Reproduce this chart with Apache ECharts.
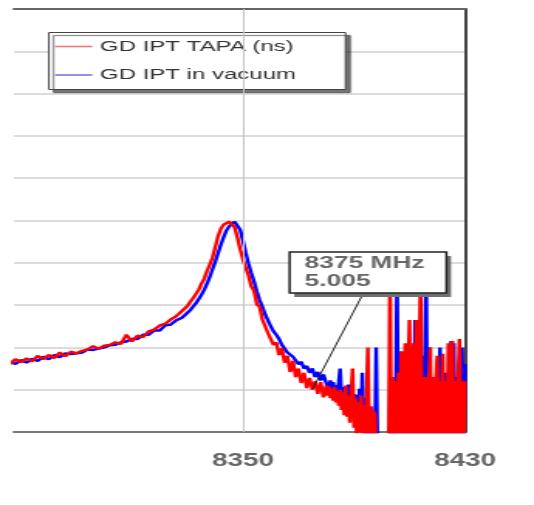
<!DOCTYPE html>
<html>
<head>
<meta charset="utf-8">
<script src="https://cdn.jsdelivr.net/npm/echarts@6/dist/echarts.min.js"></script>
<style>
  html, body { margin: 0; padding: 0; background: #fff; overflow: hidden; }
  /* the plot is laid out narrow and widened horizontally, like the exported trace */
  #chart { width: 345px; height: 505px; transform: scaleX(1.5478); transform-origin: 0 0; }
</style>
</head>
<body>
<div id="chart"></div>
<script>
// Frequency grid, MHz
const freqMHz = [
  8264, 8266, 8268, 8270, 8272, 8274, 8276, 8278, 8280, 8282,
  8284, 8286, 8288, 8290, 8292, 8294, 8296, 8298, 8300, 8302,
  8304, 8306, 8308, 8310, 8312, 8314, 8316, 8318, 8320, 8322,
  8324, 8326, 8328, 8330,
  8331, 8332, 8333, 8334, 8335, 8336, 8337, 8338, 8339, 8340,
  8341, 8342, 8343, 8344, 8345, 8346, 8347, 8348, 8349, 8350,
  8351, 8352, 8353, 8354, 8355, 8356, 8357, 8358, 8359, 8360,
  8361, 8362, 8363, 8364, 8365, 8366, 8367, 8368, 8369, 8370,
  8371, 8372, 8373, 8374, 8375, 8376, 8377, 8378, 8379, 8380,
  8380.5, 8381, 8381.5, 8382, 8382.5, 8383, 8383.5, 8384, 8384.5, 8385,
  8385.5, 8386, 8386.5, 8387, 8387.5, 8388, 8388.5, 8389, 8389.5, 8390,
  8390.5, 8391, 8391.5, 8392, 8392.5, 8393, 8393.5, 8394, 8394.5, 8395,
  8395.5, 8396, 8396.5, 8397, 8397.5, 8398, 8398.5, 8399, 8399.5, 8400,
  8400.5, 8401, 8401.5, 8402, 8402.5, 8403, 8403.5, 8404, 8404.5, 8405,
  8405.5, 8406, 8406.5, 8407, 8407.5, 8408, 8408.5, 8409, 8409.5, 8410,
  8410.5, 8411, 8411.5, 8412, 8412.5, 8413, 8413.5, 8414, 8414.5, 8415,
  8415.5, 8416, 8416.5, 8417, 8417.5, 8418, 8418.5, 8419, 8419.5, 8420,
  8420.5, 8421, 8421.5, 8422, 8422.5, 8423, 8423.5, 8424, 8424.5, 8425,
  8425.5, 8426, 8426.5, 8427, 8427.5, 8428, 8428.5, 8429, 8429.5, 8430
];

// Group delay, GD IPT TAPA (ns)
const gdTapa = [
  5.66, 5.61, 5.72, 5.65, 5.74, 5.67, 5.80, 5.72, 5.82, 5.75,
  5.88, 5.79, 5.90, 5.86, 5.92, 5.95, 6.03, 5.97, 6.04, 6.06,
  6.12, 6.08, 6.30, 6.14, 6.28, 6.24, 6.38, 6.42, 6.52, 6.56,
  6.66, 6.74, 6.86, 6.98,
  7.08, 7.16, 7.26, 7.36, 7.50, 7.62, 7.80, 7.95, 8.12, 8.36,
  8.62, 8.80, 8.90, 8.94, 8.97, 8.95, 8.84, 8.60, 8.32, 8.08,
  7.88, 7.70, 7.44, 7.34, 7.02, 6.96, 6.66, 6.68, 6.34, 6.36,
  6.06, 6.12, 5.82, 5.98, 5.64, 5.80, 5.42, 5.68, 5.30, 5.50,
  5.16, 5.40, 5.04, 5.28, 5.005, 5.20, 4.90, 5.18, 4.82, 5.10,
  4.86, 5.08, 4.80, 5.02, 4.74, 5.06, 4.70, 4.96, 4.62, 5.00,
  4.52, 4.94, 4.40, 5.10, 4.36, 4.86, 4.22, 4.90, 5.50, 4.10,
  4.80, 3.90, 4.70, 4.00, 4.86, 3.80, 4.64, 3.70, 4.72, 6.00,
  3.80, 4.60, 3.70, 4.50, 4.40, 3.50, 3.40, 3.50, 3.40, 3.50,
  3.40, 3.50, 3.40, 3.50, 3.40, 7.90, 3.40, 5.30, 3.50, 5.20,
  3.30, 5.40, 3.60, 5.90, 3.40, 5.30, 6.10, 3.50, 5.30, 6.65,
  3.40, 5.40, 6.10, 3.50, 6.65, 3.40, 5.30, 7.90, 3.50, 5.30,
  3.40, 5.30, 3.60, 5.20, 6.00, 3.40, 5.30, 3.50, 5.20, 5.80,
  3.40, 5.20, 3.60, 5.85, 3.40, 5.20, 3.50, 6.10, 3.40, 5.20,
  6.15, 3.50, 5.20, 3.40, 5.30, 6.20, 3.50, 5.20, 3.40, 5.20
];

// Group delay, GD IPT in vacuum (ns)
const gdVacuum = [
  5.62, 5.67, 5.61, 5.70, 5.64, 5.73, 5.68, 5.78, 5.72, 5.82,
  5.77, 5.86, 5.84, 5.86, 5.88, 5.95, 5.94, 5.97, 6.00, 6.05,
  6.06, 6.12, 6.14, 6.20, 6.20, 6.30, 6.30, 6.40, 6.40, 6.52,
  6.54, 6.64, 6.70, 6.82,
  6.88, 6.96, 7.04, 7.14, 7.24, 7.36, 7.50, 7.66, 7.84, 8.02,
  8.22, 8.42, 8.60, 8.76, 8.86, 8.92, 8.97, 8.94, 8.78, 8.52,
  8.24, 7.98, 7.76, 7.56, 7.32, 7.12, 6.96, 6.78, 6.64, 6.50,
  6.38, 6.30, 6.20, 6.06, 6.04, 5.88, 5.90, 5.78, 5.80, 5.60,
  5.66, 5.50, 5.56, 5.40, 5.50, 5.30, 5.42, 5.22, 5.36, 5.16,
  5.14, 4.96, 5.22, 5.00, 5.18, 4.92, 5.10, 4.90, 5.16, 5.50,
  4.80, 5.06, 4.70, 5.00, 4.66, 5.12, 4.60, 4.94, 4.50, 4.90,
  4.30, 4.88, 4.20, 5.02, 4.10, 5.40, 4.00, 4.80, 3.90, 4.70,
  3.80, 4.60, 3.70, 4.50, 3.60, 6.00, 3.40, 3.50, 3.40, 3.50,
  3.40, 3.50, 3.40, 3.50, 3.40, 3.50, 5.20, 3.40, 5.00, 3.50,
  7.90, 3.40, 5.30, 5.90, 3.40, 5.10, 3.50, 5.40, 3.60, 5.00,
  3.40, 5.60, 3.50, 6.65, 3.40, 5.30, 3.60, 5.40, 5.80, 3.40,
  5.20, 7.90, 3.50, 6.00, 3.40, 5.30, 3.50, 5.20, 3.40, 5.10,
  3.50, 6.00, 3.40, 5.20, 3.60, 5.40, 3.50, 5.10, 3.40, 6.15,
  3.50, 6.10, 3.40, 5.30, 3.60, 5.50, 3.40, 6.00, 3.50, 5.60
];

const seriesNames = ['GD IPT TAPA (ns)', 'GD IPT in vacuum'];
const xTickLabels = [8350, 8430];
const xRange = [8267.5, 8430];
const yRange = [4, 14];
const markerPoint = { freq: 8375, value: 5.005 };

const FONT = "'Liberation Sans', Arial, sans-serif";
const pairs = ys => freqMHz.map((f, i) => [f, ys[i]]);

const chart = echarts.init(document.getElementById('chart'), null, { renderer: 'canvas' });

const option = {
  animation: false,
  backgroundColor: '#fff',
  grid: { left: 9.05, right: 44.6, top: 9, bottom: 73, containLabel: false },
  xAxis: [
    {
      type: 'value', min: xRange[0], max: xRange[1], position: 'bottom',
      axisLine: { show: true, onZero: false, lineStyle: { color: '#777', width: 2 } },
      axisTick: { show: false },
      splitLine: { show: false },
      axisLabel: {
        customValues: xTickLabels, showMinLabel: true, showMaxLabel: true,
        formatter: v => String(v),
        margin: 20, color: '#666', fontSize: 18, fontWeight: 'bold', fontFamily: FONT
      }
    },
    {
      type: 'value', min: xRange[0], max: xRange[1], position: 'top',
      axisLine: { show: true, onZero: false, lineStyle: { color: '#666', width: 2 } },
      axisTick: { show: false }, axisLabel: { show: false }, splitLine: { show: false }
    }
  ],
  yAxis: [
    {
      type: 'value', min: yRange[0], max: yRange[1], interval: 1,
      axisLine: { show: false }, axisTick: { show: false }, axisLabel: { show: false },
      splitLine: { show: true, lineStyle: { color: '#dcdcdc', width: 2 } }
    },
    {
      type: 'value', min: yRange[0], max: yRange[1], position: 'right',
      axisLine: { show: true, onZero: false, lineStyle: { color: '#444', width: 2 } },
      axisTick: { show: false }, axisLabel: { show: false }, splitLine: { show: false }
    }
  ],
  legend: {
    orient: 'vertical', left: 31.6, top: 32.5,
    padding: [6, 32, 6.5, 4], itemGap: 12.5, itemWidth: 24, itemHeight: 1.6,
    icon: 'rect',
    backgroundColor: '#fff', borderColor: '#444', borderWidth: 1,
    shadowColor: 'rgba(0,0,0,0.55)', shadowBlur: 1, shadowOffsetX: 3, shadowOffsetY: 3,
    selectedMode: false,
    textStyle: { color: '#333', fontSize: 15.5, fontFamily: FONT },
    data: [
      { name: seriesNames[0], icon: 'rect', itemStyle: { color: '#ee7777' } },
      { name: seriesNames[1], icon: 'rect', itemStyle: { color: '#7777dd' } }
    ]
  },
  series: [
    {
      type: 'line', name: 'grid-8350', data: [], z: 1, silent: true,
      markLine: {
        silent: true, symbol: 'none', label: { show: false },
        lineStyle: { color: '#c4c4c4', width: 1, type: 'solid' },
        data: [{ xAxis: xTickLabels[0] }]
      }
    },
    {
      type: 'line', name: seriesNames[1], data: pairs(gdVacuum), z: 2,
      symbol: 'none', showSymbol: false, clip: true,
      lineStyle: { color: '#0000ff', width: 2.4 }, itemStyle: { color: '#0000ff' }
    },
    {
      type: 'line', name: seriesNames[0], data: pairs(gdTapa), z: 3,
      symbol: 'none', showSymbol: false, clip: true,
      lineStyle: { color: '#ff0000', width: 2.4 }, itemStyle: { color: '#ff0000' }
    }
  ]
};

chart.setOption(option);

// Marker callout: box with frequency / value and a leader line to the trace point
const tip = chart.convertToPixel({ gridIndex: 0 }, [markerPoint.freq, markerPoint.value]);
const box = { x: 187.1, y: 252, w: 101.3, h: 41 };
chart.setOption({
  graphic: [
    { type: 'line', z: 10, silent: true,
      shape: { x1: 234.8, y1: box.y + box.h, x2: tip[0], y2: tip[1] },
      style: { stroke: '#222', lineWidth: 1 } },
    { type: 'rect', z: 10, silent: true,
      shape: { x: box.x + 3, y: box.y + 4, width: box.w, height: box.h },
      style: { fill: '#707070' } },
    { type: 'rect', z: 11, silent: true,
      shape: { x: box.x, y: box.y, width: box.w, height: box.h },
      style: { fill: '#fff', stroke: '#222', lineWidth: 1.5 } },
    { type: 'text', z: 12, silent: true, x: 196.8, y: 263.5,
      style: { text: markerPoint.freq + ' MHz', fill: '#666', fontSize: 17,
               fontWeight: 'bold', fontFamily: FONT, verticalAlign: 'middle' } },
    { type: 'text', z: 12, silent: true, x: 196.8, y: 281,
      style: { text: markerPoint.value.toFixed(3), fill: '#666', fontSize: 17,
               fontWeight: 'bold', fontFamily: FONT, verticalAlign: 'middle' } }
  ]
});
</script>
</body>
</html>
